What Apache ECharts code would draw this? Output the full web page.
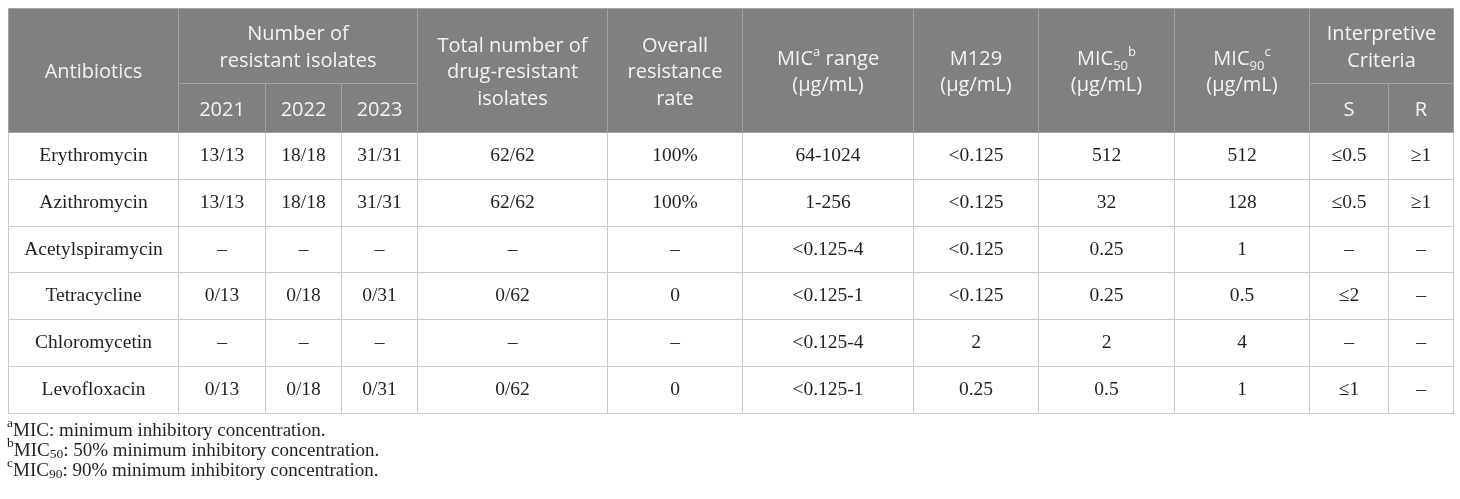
<!DOCTYPE html>
<html>
<head>
<meta charset="utf-8">
<script src="https://cdn.jsdelivr.net/npm/echarts@6/dist/echarts.min.js"></script>
<style>
  html, body { margin: 0; padding: 0; background: #fff; }
  #chart { width: 1460px; height: 499px; }
</style>
</head>
<body>
<div id="chart"></div>
<script>
// table content
const antibiotics = ['Erythromycin', 'Azithromycin', 'Acetylspiramycin', 'Tetracycline', 'Chloromycetin', 'Levofloxacin'];
const isolates2021 = ['13/13', '13/13', '–', '0/13', '–', '0/13'];
const isolates2022 = ['18/18', '18/18', '–', '0/18', '–', '0/18'];
const isolates2023 = ['31/31', '31/31', '–', '0/31', '–', '0/31'];
const totalResistant = ['62/62', '62/62', '–', '0/62', '–', '0/62'];
const resistanceRate = ['100%', '100%', '–', '0', '–', '0'];
const micRange = ['64-1024', '1-256', '<0.125-4', '<0.125-1', '<0.125-4', '<0.125-1'];
const m129 = ['<0.125', '<0.125', '<0.125', '<0.125', '2', '0.25'];
const mic50 = ['512', '32', '0.25', '0.25', '2', '0.5'];
const mic90 = ['512', '128', '1', '0.5', '4', '1'];
const criteriaS = ['≤0.5', '≤0.5', '–', '≤2', '–', '≤1'];
const criteriaR = ['≥1', '≥1', '–', '–', '–', '–'];

const yearLabels = ['2021', '2022', '2023'];
const criteriaLabels = ['S', 'R'];
const groupLabels = ['Number of\nresistant isolates', 'Interpretive\nCriteria'];
const headerLabels = [
  'Antibiotics', null, null, null,
  'Total number of\ndrug-resistant\nisolates',
  'Overall\nresistance\nrate',
  'MIC{sup|a} range\n(μg/mL)',
  'M129\n(μg/mL)',
  'MIC{sub|50}{sup|b}\n(μg/mL)',
  'MIC{sub|90}{sup|c}\n(μg/mL)'
];
const footnotes = [
  '{fsup|a}MIC: minimum inhibitory concentration.',
  '{fsup|b}MIC{fsub|50}: 50% minimum inhibitory concentration.',
  '{fsup|c}MIC{fsub|90}: 90% minimum inhibitory concentration.'
];

// layout
const colEdges = [8, 178, 265, 341, 417, 607, 742, 913, 1038, 1174, 1309, 1388, 1453];
const headRows = [8, 83, 132];
const rowHeight = 46.83;
function rowEdge(r) {
  return r < 3 ? headRows[r] : headRows[2] + (r - 2) * rowHeight;
}

const HEAD_FONT = "'Open Sans', sans-serif";
const BODY_FONT = "'Liberation Serif', 'Times New Roman', serif";

const cells = [];
const bodyColumns = [antibiotics, isolates2021, isolates2022, isolates2023, totalResistant,
  resistanceRate, micRange, m129, mic50, mic90, criteriaS, criteriaR];
antibiotics.forEach((_, i) => {
  bodyColumns.forEach((col, j) => {
    cells.push({ c0: j, c1: j + 1, r0: 2 + i, r1: 3 + i, text: col[i], head: false });
  });
});
headerLabels.forEach((t, j) => {
  if (t) cells.push({ c0: j, c1: j + 1, r0: 0, r1: 2, text: t, head: true });
});
cells.push({ c0: 1, c1: 4, r0: 0, r1: 1, text: groupLabels[0], head: true });
yearLabels.forEach((t, i) => cells.push({ c0: 1 + i, c1: 2 + i, r0: 1, r1: 2, text: t, head: true }));
cells.push({ c0: 10, c1: 12, r0: 0, r1: 1, text: groupLabels[1], head: true });
criteriaLabels.forEach((t, i) => cells.push({ c0: 10 + i, c1: 11 + i, r0: 1, r1: 2, text: t, head: true }));

const headRich = {
  sup: { fontFamily: HEAD_FONT, fontSize: 13, lineHeight: 20, verticalAlign: 'top', fill: '#f3f3f3', color: '#f3f3f3' },
  sub: { fontFamily: HEAD_FONT, fontSize: 13, lineHeight: 14, verticalAlign: 'bottom', fill: '#f3f3f3', color: '#f3f3f3' }
};

const chart = echarts.init(document.getElementById('chart'), null, { renderer: 'canvas' });
chart.setOption({
  animation: false,
  backgroundColor: '#ffffff',
  grid: { left: 0, right: 0, top: 0, bottom: 0 },
  xAxis: { type: 'value', min: 0, max: 1460, show: false },
  yAxis: { type: 'value', min: 0, max: 499, inverse: true, show: false },
  title: {
    left: 7,
    top: 421,
    padding: 0,
    text: footnotes.join('\n'),
    textStyle: {
      fontFamily: BODY_FONT, fontSize: 19, fontWeight: 'normal', color: '#231f20', lineHeight: 20,
      rich: {
        fsup: { fontFamily: BODY_FONT, fontSize: 13.5, lineHeight: 13, verticalAlign: 'top', padding: [-5, 0, 0, 0], color: '#231f20' },
        fsub: { fontFamily: BODY_FONT, fontSize: 13.5, lineHeight: 12, verticalAlign: 'bottom', color: '#231f20' }
      }
    }
  },
  series: [{
    type: 'custom',
    clip: false,
    silent: true,
    data: cells.map(c => [c.c0, c.r0, c.c1, c.r1]),
    renderItem(params, api) {
      const cell = cells[params.dataIndex];
      const p0 = api.coord([colEdges[cell.c0], rowEdge(cell.r0)]);
      const p1 = api.coord([colEdges[cell.c1], rowEdge(cell.r1)]);
      const x = Math.round(p0[0]) + 0.5;
      const y = Math.round(p0[1]) + 0.5;
      const w = Math.round(p1[0]) - Math.round(p0[0]);
      const h = Math.round(p1[1]) - Math.round(p0[1]);
      return {
        type: 'group',
        children: [{
          type: 'rect',
          shape: { x: x, y: y, width: w, height: h },
          style: { fill: cell.head ? '#7f807f' : '#ffffff', stroke: cell.head ? '#a2a2a2' : '#cacaca', lineWidth: 1 }
        }, {
          type: 'text',
          style: {
            text: cell.text,
            x: x + w / 2,
            y: y + h / 2 + (cell.head ? 2 : 0),
            align: 'center',
            verticalAlign: 'middle',
            fontFamily: cell.head ? HEAD_FONT : BODY_FONT,
            fontSize: cell.head ? 20 : 19.5,
            lineHeight: cell.head ? 26.5 : 22,
            fill: cell.head ? '#f3f3f3' : '#231f20',
            rich: cell.head ? headRich : {}
          }
        }]
      };
    }
  }]
});
</script>
</body>
</html>
